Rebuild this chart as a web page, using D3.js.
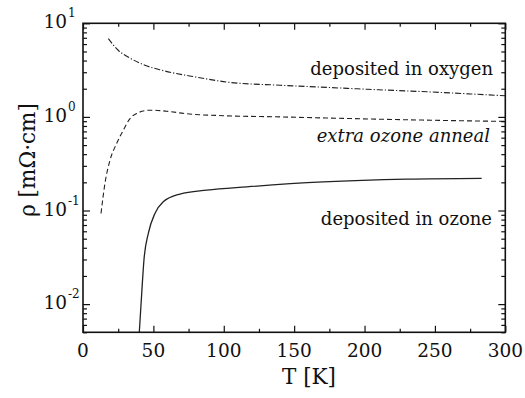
<!DOCTYPE html>
<html>
<head>
<meta charset="utf-8">
<script src="https://cdn.jsdelivr.net/npm/d3@7"></script>
<style>
  body { margin: 0; background: #fff; }
  svg { display: block; }
</style>
</head>
<body>
<svg id="chart" width="525" height="398" font-family="DejaVu Serif" fill="#111"></svg>
<script>
// Resistivity vs temperature, three film preparations
const oxygenT   = [18, 25, 32, 44, 56, 80, 105, 140, 175, 210, 246, 275, 300];
const oxygenRho = [6.87, 5.15, 4.37, 3.56, 3.15, 2.67, 2.33, 2.18, 2.06, 1.95, 1.85, 1.76, 1.68];

const annealT   = [12.8, 15.6, 19.2, 23.9, 28.6, 33.4, 38.1, 47.6, 59.4, 73.7, 100, 140, 211, 250, 300];
const annealRho = [0.093, 0.195, 0.345, 0.52, 0.72, 0.96, 1.09, 1.18, 1.15, 1.08, 1.03, 1.0, 0.945, 0.92, 0.895];

const ozoneT    = [40.0, 41.7, 43.3, 46.4, 51.1, 57.0, 68.9, 87.9, 116.3, 170.7, 230, 283.2];
const ozoneRho  = [0.005, 0.013, 0.0296, 0.057, 0.093, 0.124, 0.150, 0.165, 0.179, 0.202, 0.216, 0.220];

const xTicks = [0, 50, 100, 150, 200, 250, 300];
const yDecades = [0.01, 0.1, 1, 10];
const yExponents = ["-2", "-1", "0", "1"];

const seriesNames = ["deposited in oxygen", "extra ozone anneal", "deposited in ozone"];

const svg = d3.select("#chart");
const plotL = 83, plotR = 505.3, plotT = 23.3, plotB = 332.3;

const x = d3.scaleLinear().domain([0, 300]).range([plotL, plotR]);
const y = d3.scaleLog().domain([0.005, 10]).range([plotB, plotT]);

svg.append("defs").append("clipPath").attr("id", "plotclip")
  .append("rect").attr("x", plotL).attr("y", plotT)
  .attr("width", plotR - plotL).attr("height", plotB - plotT);

const line = d3.line().x(d => x(d[0])).y(d => y(d[1])).curve(d3.curveMonotoneX);

const series = [
  { T: oxygenT, R: oxygenRho, dash: "6,2,1.2,2", w: 1.1 },
  { T: annealT, R: annealRho, dash: "5,3", w: 1.1 },
  { T: ozoneT,  R: ozoneRho,  dash: null, w: 1.3 }
];

const g = svg.append("g").attr("clip-path", "url(#plotclip)");
series.forEach(s => {
  g.append("path")
    .datum(s.T.map((t, i) => [t, s.R[i]]))
    .attr("d", line)
    .attr("fill", "none")
    .attr("stroke", "#222")
    .attr("stroke-width", s.w)
    .attr("stroke-dasharray", s.dash);
});

// ticks on all four sides, pointing inward
const tickColor = "#111";
const minorX = d3.range(25, 300, 50);
const axB = d3.axisBottom(x).tickValues(xTicks).tickSize(-6.5).tickFormat("");
const axT = d3.axisTop(x).tickValues(xTicks).tickSize(-6.5).tickFormat("");
const axBm = d3.axisBottom(x).tickValues(minorX).tickSize(-3.5).tickFormat("");
const axTm = d3.axisTop(x).tickValues(minorX).tickSize(-3.5).tickFormat("");

const minorY = [];
[0.001, 0.01, 0.1, 1].forEach(d => {
  for (let k = 2; k <= 9; k++) {
    const v = d * k;
    if (v >= 0.005 && v <= 10) minorY.push(v);
  }
});
const axL = d3.axisLeft(y).tickValues(yDecades).tickSize(-7).tickFormat("");
const axR = d3.axisRight(y).tickValues(yDecades).tickSize(-7).tickFormat("");
const axLm = d3.axisLeft(y).tickValues(minorY).tickSize(-4).tickFormat("");
const axRm = d3.axisRight(y).tickValues(minorY).tickSize(-4).tickFormat("");

function place(axis, tx, ty) {
  const a = svg.append("g").attr("transform", `translate(${tx},${ty})`).call(axis);
  a.select(".domain").remove();
  a.selectAll("line").attr("stroke", tickColor).attr("stroke-width", 1.2);
}
place(axB, 0, plotB); place(axBm, 0, plotB);
place(axT, 0, plotT); place(axTm, 0, plotT);
place(axL, plotL, 0); place(axLm, plotL, 0);
place(axR, plotR, 0); place(axRm, plotR, 0);

svg.append("rect")
  .attr("x", plotL).attr("y", plotT)
  .attr("width", plotR - plotL).attr("height", plotB - plotT)
  .attr("fill", "none").attr("stroke", "#111").attr("stroke-width", 1.6);

const font = "DejaVu Serif";

// x tick labels
svg.append("g").selectAll("text").data(xTicks).join("text")
  .attr("x", d => x(d)).attr("y", 357)
  .attr("text-anchor", "middle")
  .attr("font-family", font).attr("font-size", 18.5)
  .text(d => d);

// y tick labels as powers of ten
yDecades.forEach((d, i) => {
  const yy = y(d) + 5;
  svg.append("text").attr("x", 67).attr("y", yy)
    .attr("text-anchor", "end").attr("font-family", font).attr("font-size", 18.5).text("10");
  svg.append("text").attr("x", 68).attr("y", yy - 11)
    .attr("text-anchor", "start").attr("font-family", font).attr("font-size", 12).text(yExponents[i]);
});

// axis titles
svg.append("text").attr("x", 309).attr("y", 384)
  .attr("text-anchor", "middle").attr("font-family", font).attr("font-size", 21.5).text("T [K]");
svg.append("text")
  .attr("transform", "translate(35,160) rotate(-90)")
  .attr("text-anchor", "middle").attr("font-family", font).attr("font-size", 21.5).text("ρ [mΩ·cm]");

// curve annotations
svg.append("text").attr("x", 493).attr("y", 75)
  .attr("text-anchor", "end").attr("font-family", font).attr("font-size", 18).text(seriesNames[0]);
svg.append("text").attr("x", 490).attr("y", 142)
  .attr("text-anchor", "end").attr("font-family", font).attr("font-size", 18)
  .attr("font-style", "italic").text(seriesNames[1]);
svg.append("text").attr("x", 492).attr("y", 225)
  .attr("text-anchor", "end").attr("font-family", font).attr("font-size", 18).text(seriesNames[2]);
</script>
</body>
</html>
